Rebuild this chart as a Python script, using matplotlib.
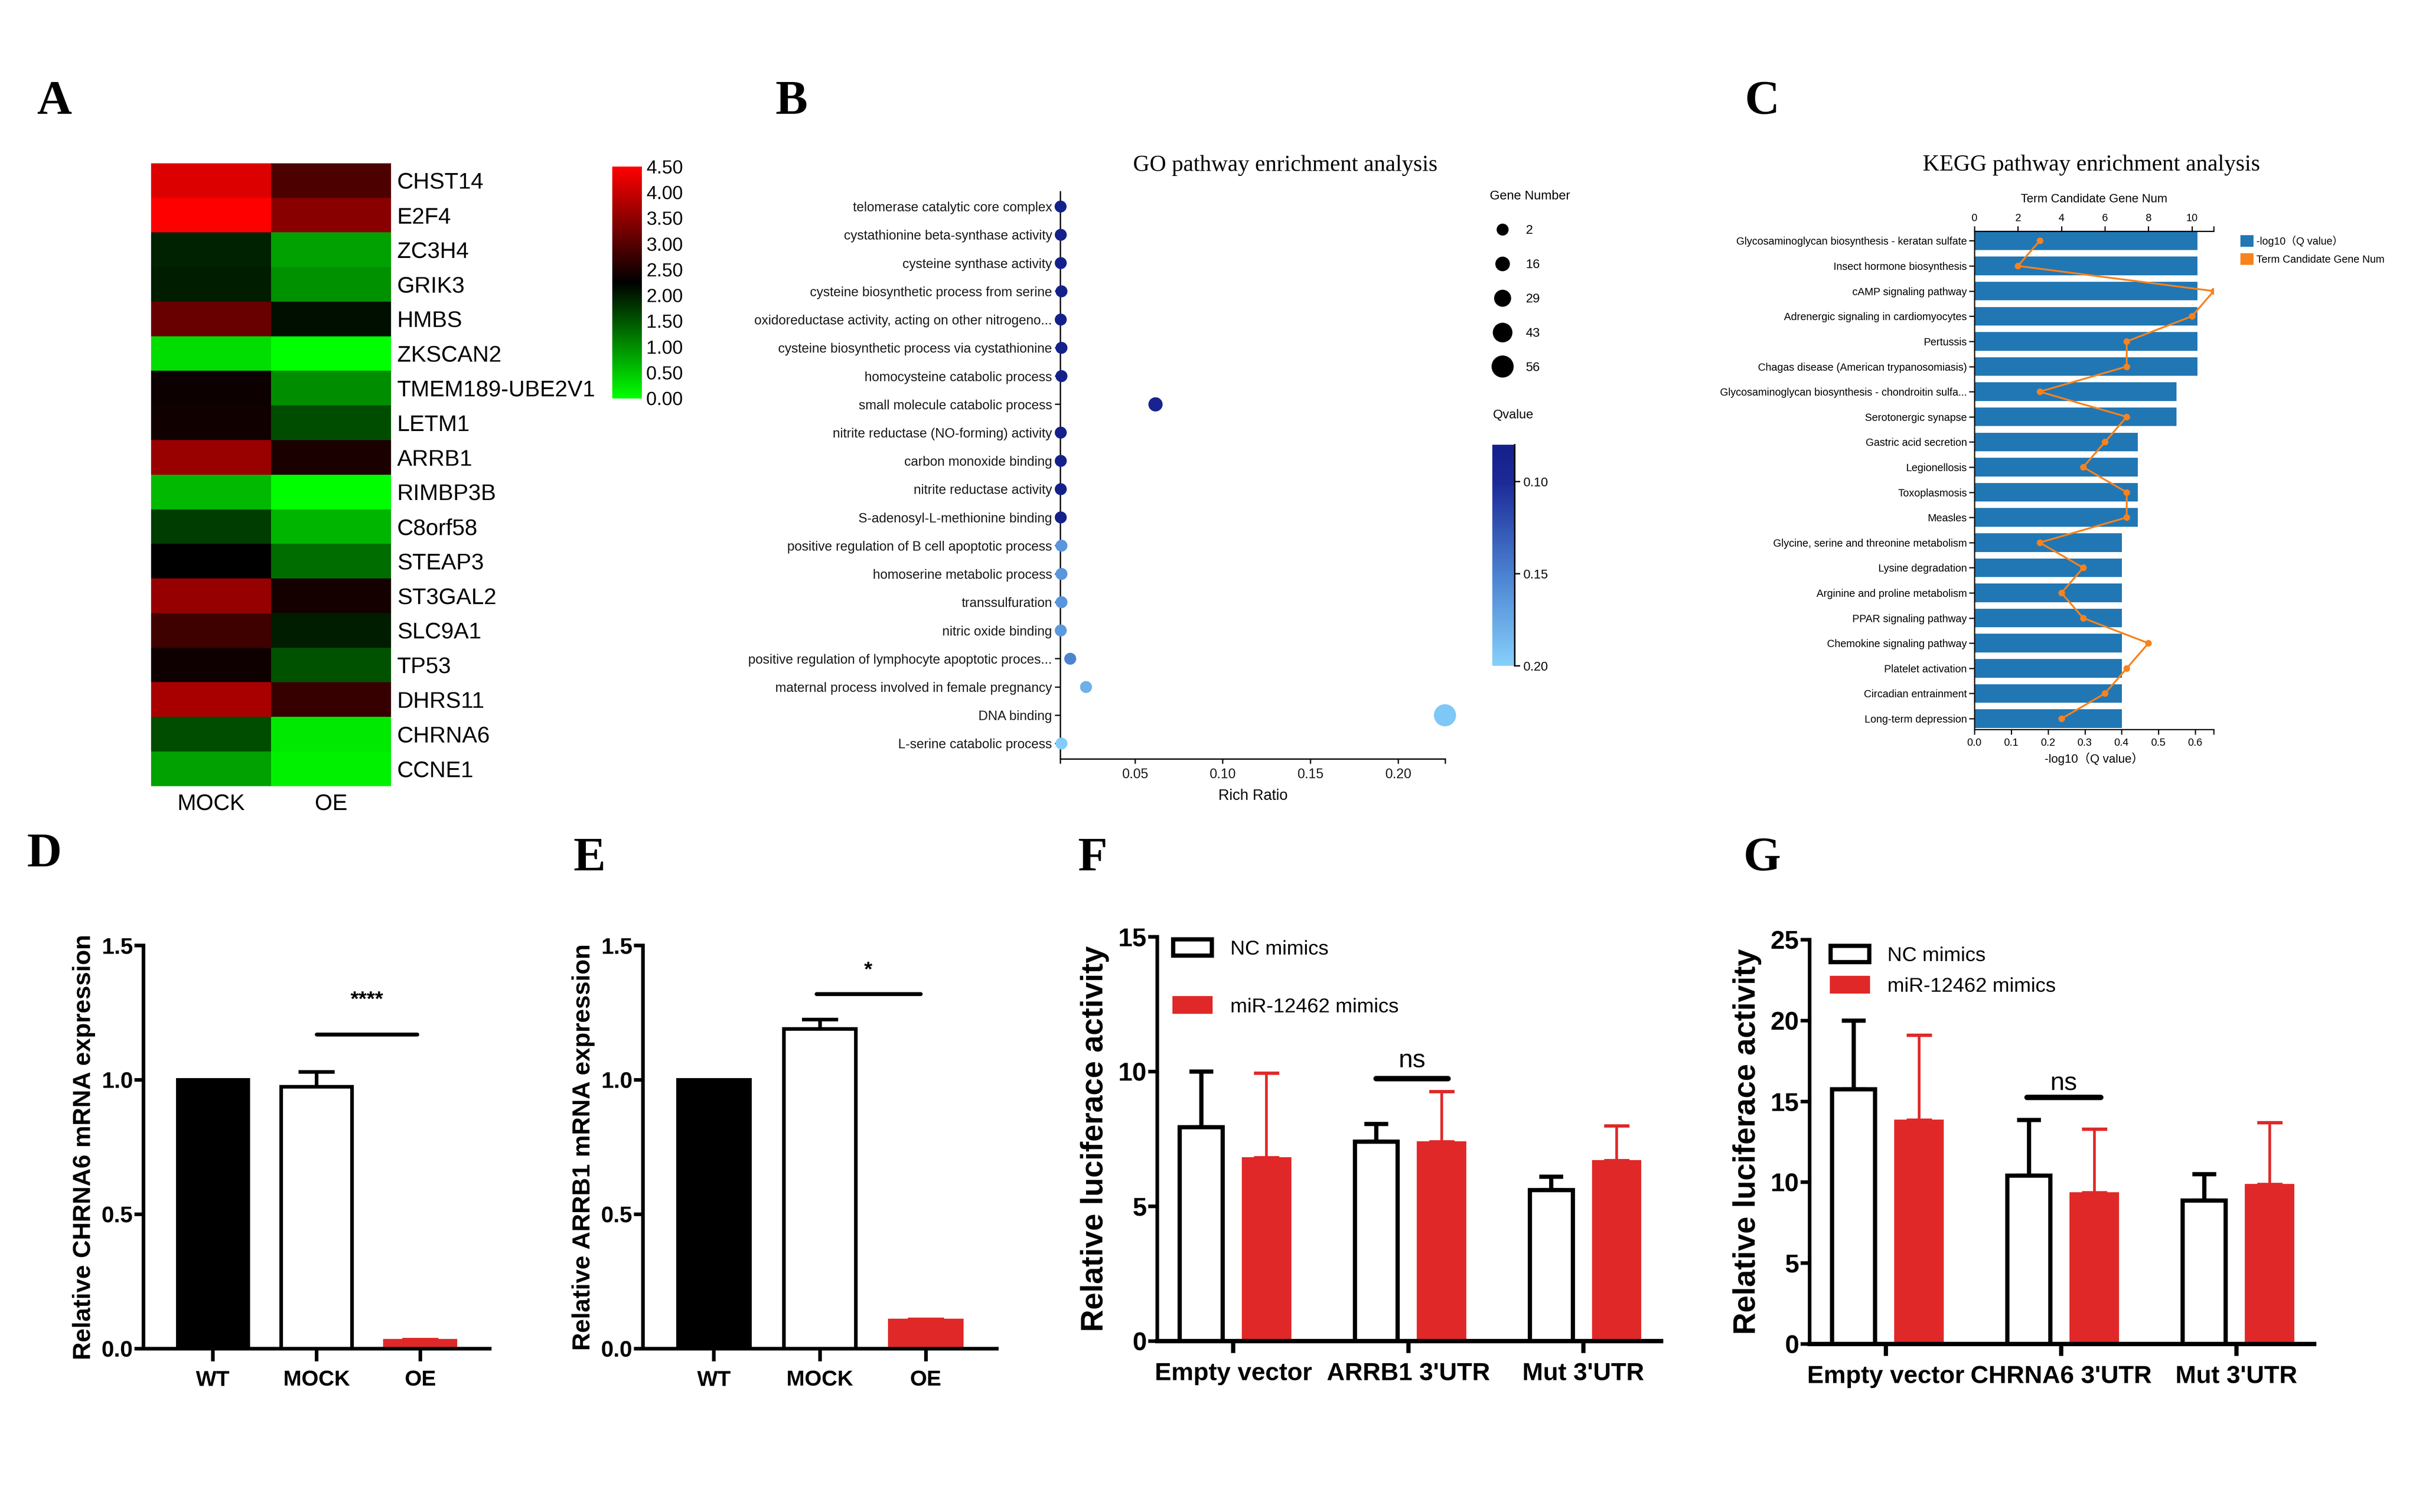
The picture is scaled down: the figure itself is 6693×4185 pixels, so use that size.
import numpy as np
import matplotlib
matplotlib.use("Agg")
import matplotlib.pyplot as plt
from matplotlib import font_manager
from matplotlib.colors import LinearSegmentedColormap, Normalize
from matplotlib.cm import ScalarMappable
from matplotlib.patches import Patch
from matplotlib.lines import Line2D

# ---------------- data ----------------
genes = ['CHST14', 'E2F4', 'ZC3H4', 'GRIK3', 'HMBS', 'ZKSCAN2', 'TMEM189-UBE2V1',
         'LETM1', 'ARRB1', 'RIMBP3B', 'C8orf58', 'STEAP3', 'ST3GAL2', 'SLC9A1',
         'TP53', 'DHRS11', 'CHRNA6', 'CCNE1']
hm_cols = ['MOCK', 'OE']
hm_mock = [4.20, 4.50, 1.94, 1.99, 3.17, 0.30, 2.37, 2.40, 3.60, 0.62, 1.72, 2.26,
           3.57, 2.81, 2.39, 3.73, 1.58, 0.84]
hm_oe = [2.92, 3.45, 0.84, 0.98, 2.11, 0.00, 1.01, 1.58, 2.49, 0.02, 0.66, 1.30,
         2.43, 2.00, 1.54, 2.74, 0.20, 0.13]

go_terms = ['telomerase catalytic core complex',
            'cystathionine beta-synthase activity',
            'cysteine synthase activity',
            'cysteine biosynthetic process from serine',
            'oxidoreductase activity, acting on other nitrogeno...',
            'cysteine biosynthetic process via cystathionine',
            'homocysteine catabolic process',
            'small molecule catabolic process',
            'nitrite reductase (NO-forming) activity',
            'carbon monoxide binding',
            'nitrite reductase activity',
            'S-adenosyl-L-methionine binding',
            'positive regulation of B cell apoptotic process',
            'homoserine metabolic process',
            'transsulfuration',
            'nitric oxide binding',
            'positive regulation of lymphocyte apoptotic proces...',
            'maternal process involved in female pregnancy',
            'DNA binding',
            'L-serine catabolic process']
go_ratio = [0.0075, 0.0076, 0.0076, 0.0080, 0.0076, 0.0080, 0.0080, 0.0616, 0.0076,
            0.0076, 0.0076, 0.0076, 0.0080, 0.0080, 0.0080, 0.0076, 0.0130, 0.0220,
            0.2266, 0.0080]
go_genes = [2, 2, 2, 2, 2, 2, 2, 14, 2, 2, 2, 2, 2, 2, 2, 2, 2, 2, 56, 2]
go_q = [0.082, 0.082, 0.082, 0.082, 0.082, 0.082, 0.082, 0.088, 0.082, 0.082, 0.082,
        0.082, 0.163, 0.163, 0.163, 0.165, 0.152, 0.180, 0.194, 0.197]
go_legend_genes = [2, 16, 29, 43, 56]

kegg_terms = ['Glycosaminoglycan biosynthesis - keratan sulfate',
              'Insect hormone biosynthesis',
              'cAMP signaling pathway',
              'Adrenergic signaling in cardiomyocytes',
              'Pertussis',
              'Chagas disease (American trypanosomiasis)',
              'Glycosaminoglycan biosynthesis - chondroitin sulfa...',
              'Serotonergic synapse',
              'Gastric acid secretion',
              'Legionellosis',
              'Toxoplasmosis',
              'Measles',
              'Glycine, serine and threonine metabolism',
              'Lysine degradation',
              'Arginine and proline metabolism',
              'PPAR signaling pathway',
              'Chemokine signaling pathway',
              'Platelet activation',
              'Circadian entrainment',
              'Long-term depression']
kegg_q = [0.606, 0.606, 0.606, 0.606, 0.606, 0.606, 0.549, 0.549, 0.444, 0.444,
          0.444, 0.444, 0.401, 0.401, 0.401, 0.401, 0.401, 0.401, 0.401, 0.401]
kegg_genes = [3, 2, 11, 10, 7, 7, 3, 7, 6, 5, 7, 7, 3, 5, 4, 5, 8, 7, 6, 4]

expr_groups = ['WT', 'MOCK', 'OE']
d_mean = [1.0, 0.975, 0.03]
d_err = [0.0, 0.055, 0.004]
e_mean = [1.0, 1.19, 0.105]
e_err = [0.0, 0.035, 0.004]

series_names = ['NC mimics', 'miR-12462 mimics']
f_groups = ['Empty vector', "ARRB1 3'UTR", "Mut 3'UTR"]
f_nc = [7.94, 7.40, 5.60]
f_nc_err = [2.06, 0.66, 0.50]
f_mir = [6.81, 7.40, 6.70]
f_mir_err = [3.13, 1.86, 1.29]

g_groups = ['Empty vector', "CHRNA6 3'UTR", "Mut 3'UTR"]
g_nc = [15.76, 10.40, 8.87]
g_nc_err = [4.24, 3.45, 1.63]
g_mir = [13.85, 9.36, 9.88]
g_mir_err = [5.25, 3.94, 3.82]

# ---------------- style ----------------
installed = {f.name for f in font_manager.fontManager.ttflist}
NARROW = 'Liberation Sans Narrow' if 'Liberation Sans Narrow' in installed else 'Liberation Sans'
plt.rcParams['font.family'] = ['Liberation Sans', 'DejaVu Sans']
RED = '#e02828'
SERIF = 'Liberation Serif'

W, H = 6693, 4185
fig = plt.figure(figsize=(W / 300, H / 300), dpi=300)


def box(x0, y0, x1, y1):
    # pixel box in the 6693x4185 picture -> figure rect
    return [x0 / W, 1 - y1 / H, (x1 - x0) / W, (y1 - y0) / H]


def letter(x, y, s):
    fig.text(x / W, 1 - y / H, s, family=SERIF, weight='bold', fontsize=32, va='baseline')


letter(103, 315, 'A')
letter(2146, 315, 'B')
letter(4827, 315, 'C')
letter(75, 2398, 'D')
letter(1587, 2409, 'E')
letter(2983, 2409, 'F')
letter(4824, 2409, 'G')

# ---------------- A: heatmap ----------------
axA = fig.add_axes(box(418, 452, 1082, 2176))
hm = np.array([hm_mock, hm_oe]).T
cmap_hm = LinearSegmentedColormap.from_list('gkr', ['#00ff00', '#000000', '#ff0000'])
im = axA.imshow(hm, cmap=cmap_hm, vmin=0, vmax=4.5, aspect='auto', interpolation='nearest')
axA.set_xticks(range(len(hm_cols)), hm_cols)
axA.set_yticks(range(len(genes)), genes)
axA.yaxis.tick_right()
axA.tick_params(axis='y', length=0, labelsize=15, pad=4)
axA.tick_params(axis='x', length=0, labelsize=15, pad=5)
for s in axA.spines.values():
    s.set_visible(False)

caxA = fig.add_axes(box(1694, 461, 1776, 1103))
cbA = fig.colorbar(im, cax=caxA, ticks=np.arange(0, 4.51, 0.5))
cbA.outline.set_visible(False)
caxA.yaxis.set_major_formatter('{x:.2f}')
caxA.tick_params(length=0, labelsize=12.5, pad=3)

# ---------------- B: GO bubble ----------------
qcmap = LinearSegmentedColormap.from_list(
    'q', [(0, '#14208a'), (0.17, '#1c2a98'), (0.58, '#4a80d0'), (1.0, '#86d0fb')])
qnorm = Normalize(0.08, 0.20)


def dot_pt(n):
    return (32 + 0.52 * n) * 72 / 300


axB = fig.add_axes(box(2934, 531, 3999, 2101))
yg = np.arange(len(go_terms))
axB.scatter(go_ratio, yg, s=[dot_pt(n) ** 2 for n in go_genes], c=go_q, cmap=qcmap,
            norm=qnorm, edgecolors='none', clip_on=False, zorder=3)
axB.set_xlim(0.0074, 0.2268)
axB.set_ylim(19.55, -0.52)
axB.set_yticks(yg, go_terms)
axB.set_xticks([0.05, 0.10, 0.15, 0.20], ['0.05', '0.10', '0.15', '0.20'])
axB.set_xticks([0.0074, 0.2268], minor=True)
for side in ['top', 'right']:
    axB.spines[side].set_visible(False)
for side in ['left', 'bottom']:
    axB.spines[side].set_linewidth(0.9)
axB.tick_params(axis='y', length=3.5, width=0.9, labelsize=8.8, pad=2, colors='#1a1a1a')
axB.tick_params(axis='x', which='both', length=3, width=0.9, labelsize=9, pad=3, colors='#1a1a1a')
axB.set_xlabel('Rich Ratio', fontsize=10, labelpad=5)
fig.text(3556 / W, 1 - 458 / H, 'GO pathway enrichment analysis', family=SERIF,
         fontsize=15.2, ha='center', va='center')

size_handles = [Line2D([], [], ls='', marker='o', color='black', markeredgewidth=0,
                       markersize=dot_pt(n)) for n in go_legend_genes]
axB.legend(size_handles, [str(n) for n in go_legend_genes], title='Gene Number',
           loc='upper left', bbox_to_anchor=(4122 / W, 1 - 526 / H),
           bbox_transform=fig.transFigure, frameon=False, fontsize=8.5, title_fontsize=8.5,
           labelspacing=1.75, handletextpad=0.8, handlelength=2.0, borderpad=0,
           borderaxespad=0, alignment='left')
fig.text(4130 / W, 1 - 1148 / H, 'Qvalue', fontsize=8.5, va='center')

caxB = fig.add_axes(box(4129, 1231, 4191, 1843))
cbB = fig.colorbar(ScalarMappable(norm=qnorm, cmap=qcmap), cax=caxB, ticks=[0.10, 0.15, 0.20])
cbB.outline.set_visible(False)
caxB.invert_yaxis()
caxB.yaxis.set_major_formatter('{x:.2f}')
caxB.spines['right'].set_visible(True)
caxB.spines['right'].set_linewidth(1.0)
caxB.tick_params(length=3.6, width=0.9, labelsize=8.5, pad=2)

# ---------------- C: KEGG bars ----------------
KBLUE = '#2177b4'
KORANGE = '#f7821e'
axC = fig.add_axes(box(5463, 640, 6125, 2019))
yk = np.arange(len(kegg_terms))
axC.barh(yk, kegg_q, height=0.74, color=KBLUE)
axC.set_xlim(0, 0.65)
axC.set_ylim(19.43, -0.38)
axC.set_yticks(yk, kegg_terms)
axC.set_xticks([0.0, 0.1, 0.2, 0.3, 0.4, 0.5, 0.6])
axC.set_xticks([0.65], minor=True)
axC.tick_params(axis='y', length=3.5, width=0.8, labelsize=7, pad=1.5)
axC.tick_params(axis='x', which='both', length=3.4, width=0.8, labelsize=7, pad=2)
axC.set_xlabel('-log10（Q value）', family=['Liberation Sans', 'Noto Sans CJK SC'],
               fontsize=8, labelpad=3)
axC2 = axC.twiny()
axC2.plot(kegg_genes, yk, color=KORANGE, lw=1.2, marker='o', ms=3.4)
axC2.set_xlim(0, 11)
axC2.set_xticks([0, 2, 4, 6, 8, 10])
axC2.set_xticks([11], minor=True)
axC2.tick_params(axis='x', which='both', length=3.4, width=0.8, labelsize=7, pad=2)
axC2.set_xlabel('Term Candidate Gene Num', fontsize=8, labelpad=7)
for a in (axC, axC2):
    a.spines['right'].set_visible(False)
    for s in a.spines.values():
        s.set_linewidth(0.8)
axC.spines['top'].set_visible(False)
axC2.spines['bottom'].set_visible(False)
axC2.spines['left'].set_visible(False)
fig.text(5787 / W, 1 - 457 / H, 'KEGG pathway enrichment analysis', family=SERIF,
         fontsize=15.3, ha='center', va='center')
axC.legend([Patch(color=KBLUE), Patch(color=KORANGE)],
           ['-log10（Q value）', 'Term Candidate Gene Num'],
           prop={'family': ['Liberation Sans', 'Noto Sans CJK SC'], 'size': 7},
           loc='upper left', bbox_to_anchor=(6201 / W, 1 - 652 / H),
           bbox_transform=fig.transFigure, frameon=False, handlelength=1.1,
           handleheight=1.1, handletextpad=0.35, labelspacing=0.7, borderpad=0,
           borderaxespad=0)


# ---------------- D, E: expression bars ----------------
def expr_panel(rect, means, errs, ylabel, sig_x, sig_y, star, star_y):
    ax = fig.add_axes(rect)
    x = np.arange(len(expr_groups))
    fills = ['black', 'white', RED]
    edges = ['black', 'black', RED]
    ax.bar(x, means, width=0.68, color=fills, edgecolor=edges, linewidth=2.4, zorder=2)
    for xi, m, e, c in zip(x, means, errs, edges):
        if e > 0:
            ax.errorbar(xi, m, yerr=[[0], [e]], fmt='none', ecolor=c, elinewidth=2.4,
                        capsize=12, capthick=2.4, zorder=1)
    ax.set_xlim(-0.67, 2.67)
    ax.set_ylim(0, 1.5)
    ax.set_xticks(x, expr_groups)
    ax.set_yticks([0, 0.5, 1.0, 1.5], ['0.0', '0.5', '1.0', '1.5'])
    for side in ['top', 'right']:
        ax.spines[side].set_visible(False)
    for side in ['left', 'bottom']:
        ax.spines[side].set_linewidth(2.4)
    ax.tick_params(axis='y', length=6, width=2.4, pad=1)
    ax.tick_params(axis='x', length=8.4, width=2.4, pad=6)
    for lab in ax.get_yticklabels():
        lab.set_family(NARROW)
        lab.set_weight('bold')
        lab.set_fontsize(15)
    for lab in ax.get_xticklabels():
        lab.set_family(NARROW)
        lab.set_weight('bold')
        lab.set_fontsize(14.5)
    ax.set_ylabel(ylabel, fontsize=16.5, weight='bold', labelpad=4)
    ax.plot(sig_x, [sig_y, sig_y], color='black', lw=2.6, solid_capstyle='round')
    ax.text(np.mean(sig_x), star_y, star, ha='center', va='bottom', fontsize=14,
            weight='bold')
    return ax


expr_panel(box(397, 2617, 1355, 3733), d_mean, d_err, 'Relative CHRNA6 mRNA expression',
           [1.0, 1.97], 1.17, '****', 1.26)
expr_panel(box(1779, 2617, 2758, 3733), e_mean, e_err, 'Relative ARRB1 mRNA expression',
           [0.966, 1.95], 1.32, '*', 1.37)


# ---------------- F, G: luciferase bars ----------------
def luc_panel(rect, groups, nc, nc_err, mir, mir_err, ymax, ns_x, ns_y, ns_text_y,
              leg_anchor, leg_spacing):
    ax = fig.add_axes(rect)
    x = np.arange(len(groups))
    ax.bar(x - 0.183, nc, width=0.245, color='white', edgecolor='black', linewidth=2.8,
           zorder=2)
    ax.errorbar(x - 0.183, nc, yerr=[np.zeros(len(nc)), nc_err], fmt='none', ecolor='black',
                elinewidth=2.8, capsize=8, capthick=2.8, zorder=1)
    ax.bar(x + 0.19, mir, width=0.278, color=RED, edgecolor=RED, linewidth=0.5, zorder=2)
    ax.errorbar(x + 0.19, mir, yerr=[np.zeros(len(mir)), mir_err], fmt='none', ecolor=RED,
                elinewidth=1.8, capsize=8.4, capthick=2.2, zorder=1)
    ax.set_xlim(-0.434, 2.444)
    ax.set_ylim(0, ymax)
    ax.set_xticks(x, groups)
    ax.set_yticks(np.arange(0, ymax + 1, 5))
    for side in ['top', 'right']:
        ax.spines[side].set_visible(False)
    ax.spines['left'].set_linewidth(2.4)
    ax.spines['bottom'].set_linewidth(2.9)
    ax.tick_params(axis='y', length=6, width=2.4, pad=1)
    ax.tick_params(axis='x', length=8, width=2.8, pad=6)
    for lab in ax.get_yticklabels():
        lab.set_family(NARROW)
        lab.set_weight('bold')
        lab.set_fontsize(17)
    for lab in ax.get_xticklabels():
        lab.set_family(NARROW)
        lab.set_weight('bold')
        lab.set_fontsize(16.5)
    ax.set_ylabel('Relative luciferace activity', fontsize=20.5, weight='bold', labelpad=6)
    ax.plot(ns_x, [ns_y, ns_y], color='black', lw=3.6, solid_capstyle='round')
    ax.text(np.mean(ns_x), ns_text_y, 'ns', ha='center', va='baseline', fontsize=17,
            family=NARROW)
    handles = [Patch(facecolor='white', edgecolor='black', linewidth=2.8),
               Patch(facecolor=RED, edgecolor=RED)]
    ax.legend(handles, series_names, loc='upper left', bbox_to_anchor=leg_anchor,
              bbox_transform=fig.transFigure, frameon=False,
              prop={'family': NARROW, 'size': 13.5}, handlelength=1.9, handleheight=0.85,
              handletextpad=0.9, labelspacing=leg_spacing, borderpad=0, borderaxespad=0)
    return ax


luc_panel(box(3202, 2593, 4596, 3712), f_groups, f_nc, f_nc_err, f_mir, f_mir_err, 15,
          [0.815, 1.225], 9.75, 10.15, (3246 / W, 1 - 2600 / H), 1.87)
luc_panel(box(5007, 2601, 6403, 3720), g_groups, g_nc, g_nc_err, g_mir, g_mir_err, 25,
          [0.805, 1.225], 15.25, 15.7, (5065 / W, 1 - 2618 / H), 0.55)

fig.savefig('out.png', dpi=300)
